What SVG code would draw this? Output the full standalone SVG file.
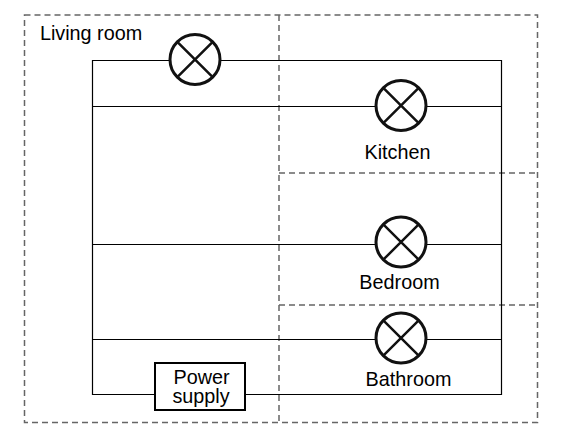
<svg xmlns="http://www.w3.org/2000/svg" width="566" height="448" viewBox="0 0 566 448">
<style>
text{font-family:"Liberation Sans",Arial,sans-serif;font-size:19.800px;fill:#000;text-anchor:middle}
.room{fill:none;stroke:#666;stroke-width:1.5;stroke-dasharray:6 4}
.wire{fill:none;stroke:#000;stroke-width:1.2}
.bulb{fill:#fff;stroke:#111;stroke-width:3}
.cross{fill:none;stroke:#111;stroke-width:2.500}
</style>
<defs>
<g id="lampSym"><circle class="bulb" r="25"/><path class="cross" d="M-17.700-17.700 17.700 17.700M-17.700 17.700 17.700-17.700"/></g>
</defs>
<rect width="566" height="448" fill="#fff"/>
<g id="rooms">
<rect class="room" x="24.500" y="15" width="513" height="407.500"/>
<path class="room" d="M279 15V422.500M279 173H537.500M279 305H537.500"/>
</g>
<g id="connectors">
<path class="wire" d="M170 60.500H92.500V394.500H155M220 60.500H501.500V394.500H245M92.500 106.500H376M426 106.500H501.500M92.500 244.500H376M426 244.500H501.500M92.500 339.500H376M426 339.500H501.500"/>
</g>
<g id="lamp-living"><use href="#lampSym" x="195" y="59.500"/></g>
<g id="lamp-kitchen"><use href="#lampSym" x="401" y="105.500"/></g>
<g id="lamp-bedroom"><use href="#lampSym" x="401" y="242"/></g>
<g id="lamp-bathroom"><use href="#lampSym" x="401" y="338"/></g>
<g id="power-supply">
<rect x="155" y="363" width="90" height="47" fill="#fff" stroke="#000" stroke-width="2"/>
<text x="201.500" y="384">Power</text>
<text x="201" y="403">supply</text>
</g>
<g id="label-living"><text x="91" y="40">Living room</text></g>
<g id="label-kitchen"><text x="397.500" y="159">Kitchen</text></g>
<g id="label-bedroom"><text x="399.500" y="289">Bedroom</text></g>
<g id="label-bathroom"><text x="408.500" y="386">Bathroom</text></g>
</svg>
